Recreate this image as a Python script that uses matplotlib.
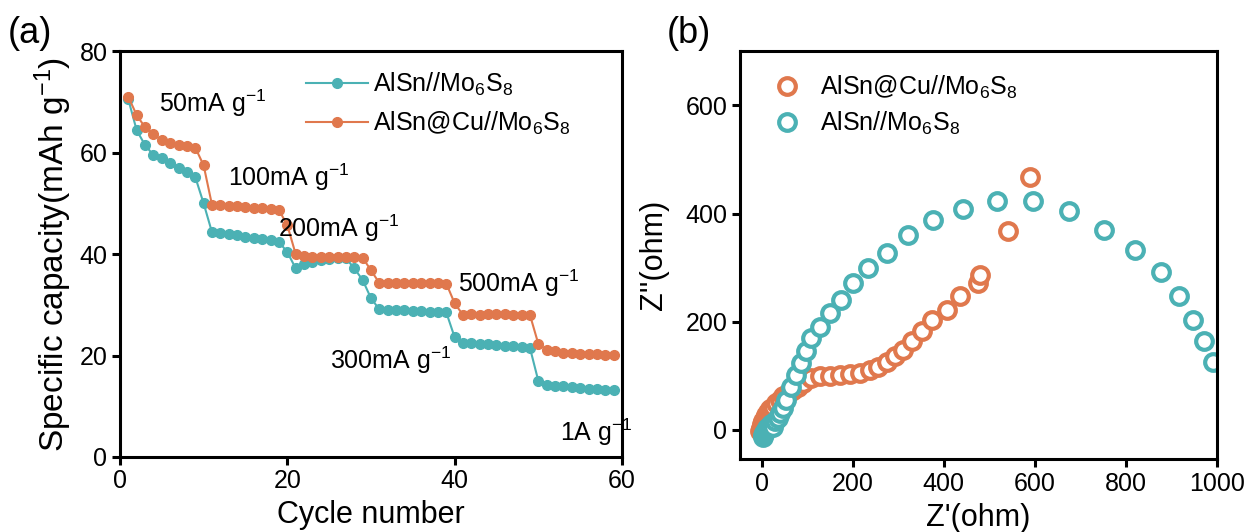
import numpy as np
import matplotlib
matplotlib.use("Agg")
import matplotlib.pyplot as plt
from matplotlib.ticker import MultipleLocator

plt.rcParams['font.family'] = ['Liberation Sans', 'DejaVu Sans']
plt.rcParams['mathtext.fontset'] = 'custom'
plt.rcParams['mathtext.rm'] = 'Liberation Sans'
plt.rcParams['mathtext.it'] = 'Liberation Sans:italic'

teal = '#4BB1B4'
orange = '#E0784D'

# (a) rate performance
cycles = np.arange(1, 60)
cap_alsn = [70.5, 64.4, 61.5, 59.5, 58.9, 57.9, 57.0, 56.2, 55.2, 50.0,
            44.3, 44.1, 43.9, 43.7, 43.4, 43.2, 42.9, 42.7, 42.4, 40.4,
            37.2, 38.0, 38.5, 38.9, 39.1, 39.2, 39.2, 37.2, 34.9, 31.3,
            29.1, 29.0, 28.9, 28.9, 28.8, 28.7, 28.6, 28.6, 28.5, 23.6,
            22.5, 22.4, 22.3, 22.2, 22.0, 21.9, 21.8, 21.7, 21.5, 15.0,
            14.2, 14.0, 13.9, 13.8, 13.6, 13.5, 13.4, 13.3, 13.2]
cap_cu = [71.0, 67.4, 65.0, 63.6, 62.5, 62.0, 61.6, 61.3, 61.0, 57.5,
          49.7, 49.6, 49.5, 49.4, 49.2, 49.1, 49.0, 48.9, 48.7, 45.7,
          40.0, 39.6, 39.5, 39.5, 39.5, 39.4, 39.4, 39.4, 39.3, 36.8,
          34.3, 34.3, 34.4, 34.3, 34.3, 34.4, 34.3, 34.3, 34.2, 30.3,
          28.0, 28.1, 28.0, 28.1, 28.2, 28.1, 28.0, 28.0, 28.0, 22.3,
          21.1, 20.8, 20.6, 20.5, 20.4, 20.3, 20.3, 20.2, 20.1]
rate_labels = ['50mA g$^{-1}$', '100mA g$^{-1}$', '200mA g$^{-1}$',
               '500mA g$^{-1}$', '300mA g$^{-1}$', '1A g$^{-1}$']
rate_x = [4.7, 12.9, 18.9, 40.4, 25.1, 52.6]
rate_y = [69.8, 55.2, 45.1, 34.3, 19.1, 4.9]

# (b) Nyquist plots
zre_cu = [-4, -2, 1, 3, 6, 9, 13, 18, 25, 32, 40, 47, 55, 62, 69, 80, 91,
          109, 127, 149, 171, 193, 215, 237, 256, 274, 292, 310, 329, 351,
          375, 406, 435, 475, 479, 541, 589]
zim_cu = [-2, 4, 10, 16, 22, 28, 34, 38, 43, 50, 56, 62, 66, 70, 74, 80, 86,
          96, 99, 100, 102, 104, 106, 111, 117, 126, 137, 148, 164, 182,
          204, 222, 248, 272, 287, 367, 468]
zre_alsn = [2, 3, 5, 7, 9, 12, 16, 20, 25, 30, 35, 40, 47, 54, 65, 76, 87,
            98, 109, 127, 149, 175, 201, 234, 274, 322, 376, 442, 516, 596,
            675, 752, 820, 877, 917, 947, 971, 992]
zim_alsn = [-14, -10, -6, -3, 0, 3, 6, 10, 6, 16, 22, 31, 40, 56, 80, 102,
            124, 145, 170, 191, 216, 241, 272, 299, 327, 361, 388, 409, 423,
            424, 404, 370, 333, 292, 247, 204, 165, 126]

fig = plt.figure(figsize=(12.47, 5.32), dpi=100)
ax1 = fig.add_axes([0.0962, 0.141, 0.4026, 0.7627])
ax2 = fig.add_axes([0.5934, 0.137, 0.3825, 0.7667])

ax1.plot(cycles, cap_alsn, '-o', color=teal, lw=1.5, ms=7,
         label='AlSn//Mo$_6$S$_8$')
ax1.plot(cycles, cap_cu, '-o', color=orange, lw=1.5, ms=7,
         label='AlSn@Cu//Mo$_6$S$_8$')
for t, x, y in zip(rate_labels, rate_x, rate_y):
    ax1.text(x, y, t, fontsize=18, va='center', ha='left')
ax1.set_xlim(0, 60)
ax1.set_ylim(0, 80)
ax1.xaxis.set_major_locator(MultipleLocator(20))
ax1.yaxis.set_major_locator(MultipleLocator(20))
ax1.set_xlabel('Cycle number', fontsize=22, labelpad=5)
ax1.set_ylabel('Specific capacity(mAh g$^{-1}$)', fontsize=24, labelpad=4)
ax1.legend(loc='upper left', bbox_to_anchor=(0.33, 1.0), frameon=False,
           fontsize=18, handlelength=2.5, handletextpad=0.2,
           labelspacing=0.45, borderaxespad=0.4)

ax2.plot(zre_cu, zim_cu, 'o', mfc='white', mec=orange, mew=3, ms=12,
         label='AlSn@Cu//Mo$_6$S$_8$')
ax2.plot(zre_alsn, zim_alsn, 'o', mfc='white', mec=teal, mew=3, ms=12,
         label='AlSn//Mo$_6$S$_8$')
ax2.set_xlim(-48, 1000)
ax2.set_ylim(-54, 700)
ax2.xaxis.set_major_locator(MultipleLocator(200))
ax2.yaxis.set_major_locator(MultipleLocator(200))
ax2.set_xlabel("Z'(ohm)", fontsize=22, labelpad=5)
ax2.set_ylabel("Z''(ohm)", fontsize=22, labelpad=12)
ax2.legend(loc='upper left', frameon=False, fontsize=18, handletextpad=0.3,
           borderaxespad=0.5, labelspacing=0.35)

for ax in (ax1, ax2):
    for s in ax.spines.values():
        s.set_linewidth(2.2)
    ax.tick_params(direction='out', length=6, width=2.2, labelsize=18, pad=3)

fig.text(0.006, 0.97, '(a)', fontsize=26, va='top')
fig.text(0.535, 0.97, '(b)', fontsize=26, va='top')

fig.savefig('out.png', dpi=100)
